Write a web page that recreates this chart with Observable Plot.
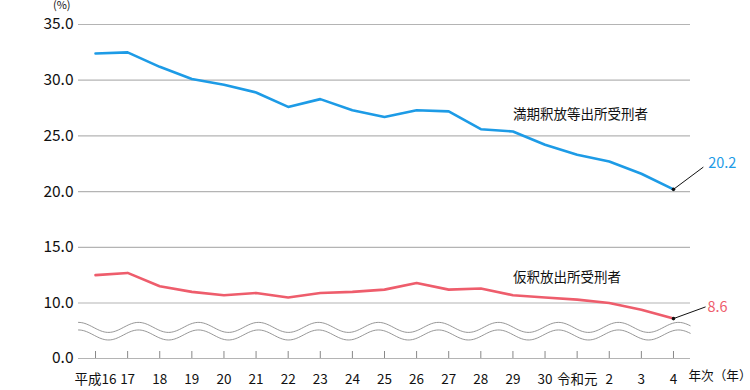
<!DOCTYPE html>
<html><head><meta charset="utf-8">
<script src="https://cdn.jsdelivr.net/npm/d3@7"></script>
<script src="https://cdn.jsdelivr.net/npm/@observablehq/plot@0.6"></script>
<style>body{margin:0;background:#fff}svg{overflow:visible}</style>
</head><body><div id="chart"></div>
<script>
const years = ["平成16","17","18","19","20","21","22","23","24","25","26","27","28","29","30","令和元","2","3","4"];
const manki = [32.4,32.5,31.2,30.1,29.6,28.9,27.6,28.3,27.3,26.7,27.3,27.2,25.6,25.4,24.2,23.3,22.7,21.6,20.2];
const karishaku = [12.5,12.7,11.5,11.0,10.7,10.9,10.5,10.9,11.0,11.2,11.8,11.2,11.3,10.7,10.5,10.3,10.0,9.4,8.6];
const yTicks = [0,10,15,20,25,30,35];
const gridTicks = [10,15,20,25,30,35];
const seriesNames = ["満期釈放等出所受刑者","仮釈放出所受刑者"];
const yUnit = "(%)";
const xUnit = "年次（年）";

const BLUE = "#1d9be6", RED = "#ee5d6c", GRAY = "#b4b4b4";
const FONT = "'Noto Sans CJK JP', 'Noto Sans', sans-serif";
const W = 750, H = 390, mL = 78, mR = 60, mT = 24, mB = 32;
const idx = years.map((_, i) => i);
const n = years.length;
const pxPerX = (W - mL - mR) / (n - 1 + 1.06);
const xPad = 0.53;

const mData = manki.map((v, i) => ({i, v}));
const kData = karishaku.map((v, i) => ({i, v}));
const mLast = mData[n - 1], kLast = kData[n - 1];

// axis-break wave symbol (decoration)
const periodX = 60 / pxPerX;
const amp = 0.45;
const wave = [];
for (let x = -xPad; x <= n - 1 + xPad + 1e-9; x += 0.05) {
  const c = Math.cos(2 * Math.PI * (x + xPad) / periodX) * amp;
  wave.push({x, a: 7.81 + c, b: 7.13 + c});
}

const bottom = H - mB;
const pxPerY = (302.5 - mT) / 25;
const y6 = mT + (35 - 6) * pxPerY;

const chart = Plot.plot({
  width: W, height: H,
  marginLeft: mL, marginRight: mR, marginTop: mT, marginBottom: mB,
  style: {fontFamily: FONT, color: "#111", background: "#fff", overflow: "visible"},
  x: {type: "linear", domain: [-xPad, n - 1 + xPad]},
  y: {type: "linear", domain: [0, 6, 35], range: [bottom, y6, mT]},
  marks: [
    Plot.gridY(gridTicks, {stroke: GRAY, strokeOpacity: 1, strokeWidth: 1.2}),
    Plot.ruleY([0], {stroke: GRAY, strokeWidth: 1.2}),
    Plot.areaY(wave, {x: "x", y1: "a", y2: "b", fill: "#fff"}),
    Plot.line(wave, {x: "x", y: "a", stroke: "#8a8a8a", strokeWidth: 0.9}),
    Plot.line(wave, {x: "x", y: "b", stroke: "#8a8a8a", strokeWidth: 0.9}),
    Plot.axisY({ticks: yTicks, tickSize: 0, tickFormat: () => "", label: null}),
    Plot.text(yTicks, {y: d => d, frameAnchor: "left", textAnchor: "end", dx: -5, text: d => d.toFixed(1), fontSize: 15.5, fill: "#111"}),
    Plot.axisX({ticks: idx, tickSize: 7, dy: -7, tickFormat: () => "", stroke: "#888", label: null}),
    Plot.text(idx, {x: d => d, frameAnchor: "bottom", lineAnchor: "middle", dy: 21, text: i => years[i], fontSize: 13.5, fill: "#111"}),
    Plot.line(mData, {x: "i", y: "v", stroke: BLUE, strokeWidth: 2.6}),
    Plot.line(kData, {x: "i", y: "v", stroke: RED, strokeWidth: 2.6}),
    Plot.link([mLast], {x1: "i", y1: "v", x2: d => d.i + 0.93, y2: d => d.v + 2.0, stroke: "#111", strokeWidth: 1}),
    Plot.link([kLast], {x1: "i", y1: "v", x2: d => d.i + 1.0, y2: d => d.v + 1.05, stroke: "#111", strokeWidth: 1}),
    Plot.dot([mLast, kLast], {x: "i", y: "v", r: 1.8, fill: "#111"}),
    Plot.text([mLast], {x: d => d.i + 1.08, y: d => d.v + 2.3, text: d => d.v.toFixed(1), fill: BLUE, fontSize: 14.5, textAnchor: "start"}),
    Plot.text([kLast], {x: d => d.i + 1.06, y: d => d.v + 1.05, text: d => d.v.toFixed(1), fill: RED, fontSize: 14.5, textAnchor: "start"}),
    Plot.text([seriesNames[0]], {x: 13, y: 26.9, text: d => d, textAnchor: "start", fontSize: 13.5, fill: "#111"}),
    Plot.text([seriesNames[1]], {x: 13, y: 12.3, text: d => d, textAnchor: "start", fontSize: 13.5, fill: "#111"}),
    Plot.text([yUnit], {frameAnchor: "top-left", text: d => d, dx: -8, dy: -23, lineAnchor: "top", textAnchor: "end", fontSize: 11, fill: "#111"}),
    Plot.text([xUnit], {frameAnchor: "bottom-right", text: d => d, dx: -2, dy: 21, textAnchor: "start", fontSize: 12.6, fill: "#111"})
  ]
});
document.getElementById("chart").appendChild(chart);
</script>
</body></html>
